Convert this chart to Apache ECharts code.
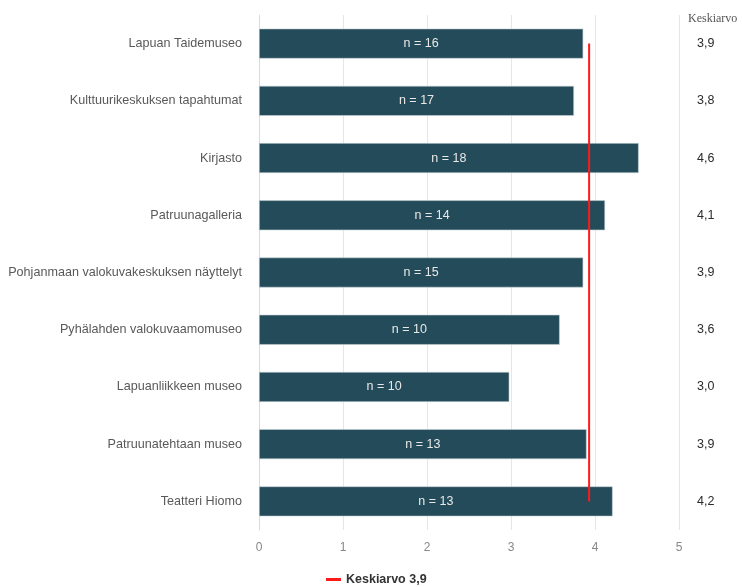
<!DOCTYPE html>
<html>
<head>
<meta charset="utf-8">
<script src="https://cdn.jsdelivr.net/npm/echarts@6/dist/echarts.min.js"></script>
<style>
    html, body { margin: 0; padding: 0; background: #fff; }
    #main { width: 742px; height: 587px; }
</style>
</head>
<body>
<div id="main"></div>
<script>
// kohteet ylhäältä alas
var kohteet = ['Lapuan Taidemuseo', 'Kulttuurikeskuksen tapahtumat', 'Kirjasto', 'Patruunagalleria',
    'Pohjanmaan valokuvakeskuksen näyttelyt', 'Pyhälahden valokuvaamomuseo', 'Lapuanliikkeen museo',
    'Patruunatehtaan museo', 'Teatteri Hiomo'];
var arvot = [3.86, 3.75, 4.52, 4.12, 3.86, 3.58, 2.98, 3.90, 4.21];
var vastaajat = [16, 17, 18, 14, 15, 10, 10, 13, 13];
var keskiarvoTekstit = ['3,9', '3,8', '4,6', '4,1', '3,9', '3,6', '3,0', '3,9', '4,2'];
var kokonaisKeskiarvo = 3.93;
var xTicks = [0, 1, 2, 3, 4, 5];

var chart = echarts.init(document.getElementById('main'));

var option = {
    animation: false,
    textStyle: { fontFamily: 'Liberation Sans, Arial, sans-serif' },
    title: {
        text: 'Keskiarvo',
        left: 683,
        top: 8,
        textStyle: { fontFamily: 'Liberation Serif, serif', fontSize: 12, fontWeight: 'normal', color: '#555' }
    },
    legend: {
        data: [{ name: 'Keskiarvo 3,9', icon: 'rect' }],
        left: 321,
        top: 568,
        itemWidth: 15,
        itemHeight: 3,
        itemGap: 8,
        textStyle: { fontSize: 12.5, fontWeight: 'bold', color: '#333' }
    },
    grid: { left: 259, right: 63, top: 15, height: 515 },
    xAxis: {
        type: 'value',
        min: xTicks[0],
        max: xTicks[xTicks.length - 1],
        interval: 1,
        axisLine: { show: false },
        axisTick: { show: false },
        axisLabel: { color: '#888', fontSize: 12, margin: 12 },
        splitLine: { lineStyle: { color: '#e6e6e6', width: 1 } }
    },
    yAxis: [
        {
            type: 'category',
            data: kohteet,
            inverse: true,
            axisLine: { show: true, lineStyle: { color: '#d6dbe8', width: 1 } },
            axisTick: { show: false },
            axisLabel: { color: '#595959', fontSize: 12.6, margin: 17 }
        },
        {
            type: 'category',
            data: keskiarvoTekstit,
            inverse: true,
            position: 'right',
            axisLine: { show: false },
            axisTick: { show: false },
            axisLabel: { color: '#2b2b2b', fontSize: 12.5, margin: 18, align: 'left' }
        }
    ],
    series: [
        {
            name: 'Keskiarvot',
            type: 'bar',
            data: arvot,
            barWidth: 30,
            itemStyle: { color: '#234b59', borderColor: '#c9d3d8', borderWidth: 0.6 },
            label: {
                show: true,
                position: 'inside',
                color: '#e8e8e8',
                fontSize: 12.5,
                formatter: function (p) { return 'n = ' + vastaajat[p.dataIndex]; }
            }
        },
        {
            name: 'Keskiarvo 3,9',
            type: 'line',
            data: kohteet.map(function () { return kokonaisKeskiarvo; }),
            symbol: 'none',
            lineStyle: { color: '#ff1a1a', width: 2 },
            itemStyle: { color: '#ff1a1a' },
            z: 5
        }
    ]
};

chart.setOption(option);
</script>
</body>
</html>
